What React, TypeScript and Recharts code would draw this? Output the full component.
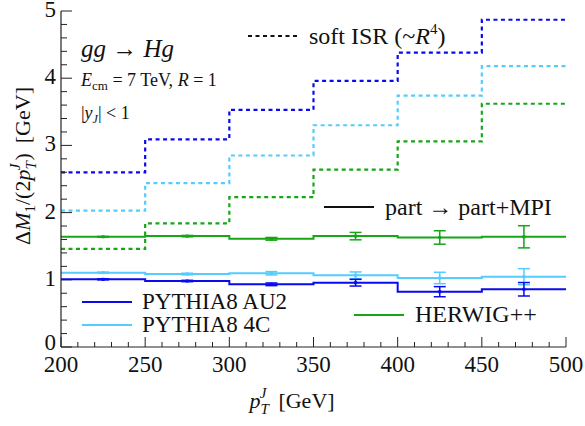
import React from "react";
import { ComposedChart, Line, Scatter, ErrorBar, XAxis, YAxis } from "recharts";

// bin edges (GeV) and bin centres for the error bars
const edges = [200, 250, 300, 350, 400, 450, 500];
const centers = [225, 275, 325, 375, 425, 475];

// part -> part+MPI
const au2 = [1.007, 0.982, 0.933, 0.957, 0.823, 0.859];
const au2Err = [0.008, 0.01, 0.02, 0.05, 0.075, 0.1];
const c4 = [1.106, 1.086, 1.097, 1.067, 1.027, 1.046];
const c4Err = [0.008, 0.012, 0.025, 0.05, 0.085, 0.12];
const herwig = [1.64, 1.65, 1.61, 1.65, 1.63, 1.64];
const herwigErr = [0.005, 0.01, 0.02, 0.055, 0.1, 0.165];

// soft ISR (~R^4)
const au2Isr = [2.6, 3.09, 3.53, 3.96, 4.38, 4.87];
const c4Isr = [2.03, 2.44, 2.85, 3.3, 3.74, 4.18];
const herwigIsr = [1.46, 1.84, 2.23, 2.64, 3.06, 3.62];

const xTicks = [200, 210, 220, 230, 240, 250, 260, 270, 280, 290, 300, 310, 320, 330, 340, 350, 360, 370, 380, 390, 400, 410, 420, 430, 440, 450, 460, 470, 480, 490, 500];
const yTicks = [0, 0.2, 0.4, 0.6, 0.8, 1, 1.2, 1.4, 1.6, 1.8, 2, 2.2, 2.4, 2.6, 2.8, 3, 3.2, 3.4, 3.6, 3.8, 4, 4.2, 4.4, 4.6, 4.8, 5];

const BLUE = "#0a0aee";
const LIGHT = "#55ccff";
const GREEN = "#16a616";
const FONT = '"Liberation Serif", "Times New Roman", serif';
const AXIS = "#222";
const txt = { fontFamily: FONT };

// step table: one row per edge, last edge repeats last bin
const stepData = edges.map((x, i) => {
  const k = Math.min(i, au2.length - 1);
  return {
    x,
    au2: au2[k],
    c4: c4[k],
    herwig: herwig[k],
    au2Isr: au2Isr[k],
    c4Isr: c4Isr[k],
    herwigIsr: herwigIsr[k],
  };
});

const pts = (vals: number[], errs: number[]) =>
  centers.map((x, i) => ({ x, y: vals[i], err: errs[i] }));

const isMajorX = (v: number) => v % 50 === 0;
const isMajorY = (v: number) => Math.abs(v - Math.round(v)) < 1e-6;

const BottomTick = ({ x, y, payload }: any) => {
  const major = isMajorX(payload.value);
  return (
    <g>
      <line x1={x} x2={x} y1={y} y2={y - (major ? 10 : 5)} stroke={AXIS} strokeWidth={1} />
      {major && (
        <text x={x} y={y + 25} textAnchor="middle" fontSize={23} style={txt} fill="#111">
          {payload.value}
        </text>
      )}
    </g>
  );
};

const TopTick = ({ x, y, payload }: any) => {
  const major = isMajorX(payload.value);
  return <line x1={x} x2={x} y1={y} y2={y + (major ? 10 : 5)} stroke={AXIS} strokeWidth={1} />;
};

const LeftTick = ({ x, y, payload }: any) => {
  const major = isMajorY(payload.value);
  return (
    <g>
      <line x1={x} x2={x + (major ? 11 : 6)} y1={y} y2={y} stroke={AXIS} strokeWidth={1} />
      {major && (
        <text x={x - 5} y={payload.value === 0 ? y + 3 : y + 6} textAnchor="end" fontSize={23} style={txt} fill="#111">
          {Math.round(payload.value)}
        </text>
      )}
    </g>
  );
};

const RightTick = ({ x, y, payload }: any) => {
  const major = isMajorY(payload.value);
  return <line x1={x} x2={x - (major ? 11 : 6)} y1={y} y2={y} stroke={AXIS} strokeWidth={1} />;
};

const Marker = (color: string) => (props: any) =>
  <rect x={props.cx - 1.5} y={props.cy - 1.5} width={3} height={3} fill={color} />;

export default function App() {
  return (
    <div style={{ position: "absolute", left: 0, top: 0, width: 585, height: 426, background: "#fff" }}>
      <ComposedChart width={585} height={426} data={stepData} margin={{ top: 11, right: 19, bottom: 0, left: 0 }}>
        <XAxis
          xAxisId="b"
          dataKey="x"
          type="number"
          domain={[200, 500]}
          ticks={xTicks}
          interval={0}
          allowDataOverflow
          height={79}
          tickSize={0}
          tickMargin={0}
          tick={<BottomTick />}
          axisLine={{ stroke: AXIS, strokeWidth: 1.2 }}
        />
        <XAxis
          xAxisId="t"
          orientation="top"
          dataKey="x"
          type="number"
          domain={[200, 500]}
          ticks={xTicks}
          interval={0}
          allowDataOverflow
          height={0}
          tickSize={0}
          tickMargin={0}
          tick={<TopTick />}
          axisLine={{ stroke: AXIS, strokeWidth: 1.2 }}
        />
        <YAxis
          yAxisId="l"
          type="number"
          domain={[0, 5]}
          ticks={yTicks}
          interval={0}
          allowDataOverflow
          width={61}
          tickSize={0}
          tickMargin={0}
          tick={<LeftTick />}
          axisLine={{ stroke: AXIS, strokeWidth: 1.2 }}
        />
        <YAxis
          yAxisId="r"
          orientation="right"
          type="number"
          domain={[0, 5]}
          ticks={yTicks}
          interval={0}
          allowDataOverflow
          width={0}
          tickSize={0}
          tickMargin={0}
          tick={<RightTick />}
          axisLine={{ stroke: AXIS, strokeWidth: 1.2 }}
        />

        {/* soft ISR, dotted */}
        <Line xAxisId="b" yAxisId="l" type="stepAfter" dataKey="au2Isr" stroke={BLUE} strokeWidth={2.2} strokeDasharray="4 3.5" dot={false} isAnimationActive={false} />
        <Line xAxisId="b" yAxisId="l" type="stepAfter" dataKey="c4Isr" stroke={LIGHT} strokeWidth={2.2} strokeDasharray="4 3.5" dot={false} isAnimationActive={false} />
        <Line xAxisId="b" yAxisId="l" type="stepAfter" dataKey="herwigIsr" stroke={GREEN} strokeWidth={2.2} strokeDasharray="4 3.5" dot={false} isAnimationActive={false} />

        {/* part -> part+MPI, solid */}
        <Line xAxisId="b" yAxisId="l" type="stepAfter" dataKey="herwig" stroke={GREEN} strokeWidth={2} dot={false} isAnimationActive={false} />
        <Line xAxisId="b" yAxisId="l" type="stepAfter" dataKey="c4" stroke={LIGHT} strokeWidth={2} dot={false} isAnimationActive={false} />
        <Line xAxisId="b" yAxisId="l" type="stepAfter" dataKey="au2" stroke={BLUE} strokeWidth={2} dot={false} isAnimationActive={false} />

        <Scatter xAxisId="b" yAxisId="l" data={pts(herwig, herwigErr)} dataKey="y" shape={Marker(GREEN)} isAnimationActive={false}>
          <ErrorBar dataKey="err" direction="y" width={6} stroke={GREEN} strokeWidth={1.5} />
        </Scatter>
        <Scatter xAxisId="b" yAxisId="l" data={pts(c4, c4Err)} dataKey="y" shape={Marker(LIGHT)} isAnimationActive={false}>
          <ErrorBar dataKey="err" direction="y" width={6} stroke={LIGHT} strokeWidth={1.5} />
        </Scatter>
        <Scatter xAxisId="b" yAxisId="l" data={pts(au2, au2Err)} dataKey="y" shape={Marker(BLUE)} isAnimationActive={false}>
          <ErrorBar dataKey="err" direction="y" width={6} stroke={BLUE} strokeWidth={1.5} />
        </Scatter>
      </ComposedChart>

      {/* annotations, legend and axis titles */}
      <svg width={585} height={426} style={{ position: "absolute", left: 0, top: 0, pointerEvents: "none", fontFamily: FONT }} fill="#111">
        <text x={81} y={57} fontSize={25} fontStyle="italic" style={txt}>
          gg <tspan fontStyle="normal">→</tspan> Hg
        </text>
        <text x={81} y={86} fontSize={18} style={txt}>
          <tspan fontStyle="italic">E</tspan>
          <tspan fontSize={13} dy={4}>cm</tspan>
          <tspan dy={-4}> = 7 TeV, </tspan>
          <tspan fontStyle="italic">R</tspan> = 1
        </text>
        <text x={81} y={119} fontSize={18} style={txt}>
          |<tspan fontStyle="italic">y</tspan>
          <tspan fontSize={12} dy={4} fontStyle="italic">J</tspan>
          <tspan dy={-4}>| &lt; 1</tspan>
        </text>

        <line x1={248} x2={298} y1={36} y2={36} stroke="#111" strokeWidth={2.2} strokeDasharray="4 3.5" />
        <text x={309} y={44} fontSize={24} style={txt}>
          soft ISR (~<tspan fontStyle="italic">R</tspan>
          <tspan fontSize={15} dy={-10}>4</tspan>
          <tspan dy={10}>)</tspan>
        </text>

        <line x1={324} x2={374} y1={207} y2={207} stroke="#111" strokeWidth={2} />
        <text x={385} y={215} fontSize={24} style={txt}>part → part+MPI</text>

        <line x1={82} x2={132} y1={302} y2={302} stroke={BLUE} strokeWidth={2} />
        <text x={142} y={309} fontSize={23} style={txt}>PYTHIA8 AU2</text>
        <line x1={82} x2={132} y1={325} y2={325} stroke={LIGHT} strokeWidth={2} />
        <text x={142} y={332} fontSize={23} style={txt}>PYTHIA8 4C</text>
        <line x1={354} x2={404} y1={315} y2={315} stroke={GREEN} strokeWidth={2} />
        <text x={415} y={322} fontSize={24} style={txt}>HERWIG++</text>

        <text x={292} y={408} fontSize={22} textAnchor="middle" style={txt}>
          <tspan fontStyle="italic">p</tspan>
          <tspan fontSize={15} fontStyle="italic" dy={6}>T</tspan>
          <tspan fontSize={15} fontStyle="italic" dx={-9} dy={-16}>J</tspan>
          <tspan dx={12} dy={10}>[GeV]</tspan>
        </text>

        <text transform="translate(30,166) rotate(-90)" fontSize={22} textAnchor="middle" style={txt}>
          Δ<tspan fontStyle="italic">M</tspan>
          <tspan fontSize={15} dy={5}>1</tspan>
          <tspan dy={-5}>/(2</tspan>
          <tspan fontStyle="italic">p</tspan>
          <tspan fontSize={15} fontStyle="italic" dy={6}>T</tspan>
          <tspan fontSize={15} fontStyle="italic" dx={-9} dy={-16}>J</tspan>
          <tspan dx={3} dy={10}>)</tspan>
          <tspan dx={10}>[GeV]</tspan>
        </text>
      </svg>
    </div>
  );
}
